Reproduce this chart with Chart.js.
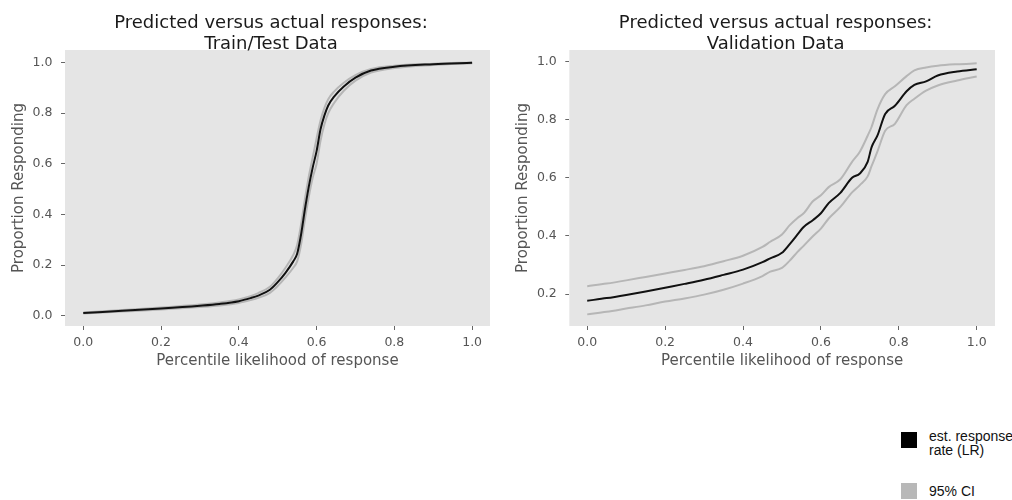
<!DOCTYPE html>
<html>
<head>
<meta charset="utf-8">
<script src="https://cdn.jsdelivr.net/npm/chart.js@4/dist/chart.umd.min.js"></script>
<style>
  body { margin: 0; background: #fff; width: 1012px; height: 500px; overflow: hidden; position: relative; }
  canvas { position: absolute; top: 0; }
  #c1 { left: 0; }
  #c2 { left: 500px; }
  .legend { position: absolute; left: 901px; font-family: "Liberation Sans", Arial, sans-serif; font-size: 14px; line-height: 14px; color: #111; white-space: nowrap; }
  .legend .sw { position: absolute; left: 0; width: 16px; height: 16px; }
  .legend .tx { position: absolute; left: 28px; }
</style>
</head>
<body>
<canvas id="c1" width="500" height="380"></canvas>
<canvas id="c2" width="512" height="380"></canvas>

<div class="legend" style="top:432px">
  <div class="sw" style="background:#000"></div>
  <div class="tx" style="top:-3px">est. response<br>rate (LR)</div>
</div>
<div class="legend" style="top:483px">
  <div class="sw" style="background:#b8b8b8"></div>
  <div class="tx" style="top:1px">95% CI</div>
</div>

<script>
// train/test data
const leftX     = [0, 0.1, 0.2, 0.3, 0.35, 0.4, 0.43, 0.45, 0.48, 0.5, 0.52, 0.54, 0.55, 0.56, 0.57, 0.58, 0.59, 0.6, 0.61, 0.62, 0.63, 0.645, 0.67, 0.7, 0.74, 0.8, 0.9, 1.0];
const leftEst   = [0.011, 0.02, 0.029, 0.04, 0.047, 0.058, 0.07, 0.08, 0.103, 0.133, 0.17, 0.215, 0.245, 0.32, 0.42, 0.51, 0.585, 0.65, 0.735, 0.79, 0.83, 0.865, 0.905, 0.94, 0.968, 0.983, 0.993, 0.999];
const leftUpper = [0.013, 0.023, 0.033, 0.045, 0.053, 0.065, 0.078, 0.09, 0.115, 0.148, 0.19, 0.24, 0.28, 0.36, 0.46, 0.55, 0.625, 0.7, 0.77, 0.82, 0.855, 0.885, 0.92, 0.95, 0.974, 0.987, 0.995, 1.0];
const leftLower = [0.009, 0.017, 0.025, 0.035, 0.041, 0.051, 0.062, 0.071, 0.091, 0.118, 0.152, 0.19, 0.215, 0.28, 0.38, 0.47, 0.545, 0.6, 0.69, 0.755, 0.8, 0.84, 0.888, 0.928, 0.96, 0.978, 0.99, 0.997];

// validation data
const rightX     = [0, 0.05, 0.1, 0.15, 0.2, 0.25, 0.3, 0.35, 0.4, 0.45, 0.47, 0.5, 0.52, 0.54, 0.555, 0.58, 0.6, 0.62, 0.65, 0.68, 0.7, 0.72, 0.73, 0.745, 0.765, 0.79, 0.82, 0.84, 0.87, 0.9, 0.95, 1.0];
const rightEst   = [0.177, 0.186, 0.197, 0.209, 0.222, 0.235, 0.249, 0.266, 0.284, 0.31, 0.323, 0.342, 0.372, 0.405, 0.43, 0.455, 0.478, 0.513, 0.548, 0.6, 0.615, 0.655, 0.705, 0.745, 0.82, 0.848, 0.898, 0.92, 0.932, 0.952, 0.966, 0.974];
const rightUpper = [0.227, 0.236, 0.247, 0.259, 0.271, 0.283, 0.296, 0.313, 0.332, 0.362, 0.38, 0.405, 0.437, 0.462, 0.477, 0.52, 0.54, 0.568, 0.595, 0.655, 0.69, 0.745, 0.775, 0.835, 0.888, 0.915, 0.95, 0.97, 0.98, 0.986, 0.991, 0.994];
const rightLower = [0.13, 0.139, 0.15, 0.161, 0.174, 0.185, 0.198, 0.215, 0.236, 0.262, 0.277, 0.29, 0.315, 0.345, 0.365, 0.4, 0.425, 0.46, 0.5, 0.55, 0.575, 0.605, 0.64, 0.69, 0.762, 0.786, 0.85, 0.872, 0.9, 0.918, 0.935, 0.949];

const xTicks = [0, 0.2, 0.4, 0.6, 0.8, 1.0];
const leftYTicks = [0, 0.2, 0.4, 0.6, 0.8, 1.0];
const rightYTicks = [0.2, 0.4, 0.6, 0.8, 1.0];

const titleLine1 = 'Predicted versus actual responses:';
const xLabel = 'Percentile likelihood of response';
const yLabel = 'Proportion Responding';

const pts = (xs, ys) => xs.map((x, i) => ({ x: x, y: ys[i] }));

const bgPlugin = {
  id: 'plotBg',
  beforeDraw(chart) {
    const a = chart.chartArea, ctx = chart.ctx;
    ctx.save();
    ctx.fillStyle = '#e5e5e5';
    ctx.fillRect(a.left, a.top, a.right - a.left, a.bottom - a.top);
    ctx.restore();
  }
};

const titlePlugin = {
  id: 'twoLineTitle',
  afterDraw(chart, args, opts) {
    const a = chart.chartArea, ctx = chart.ctx;
    ctx.save();
    ctx.font = '18px "DejaVu Sans"';
    ctx.fillStyle = '#1a1a1a';
    ctx.textAlign = 'center';
    ctx.textBaseline = 'alphabetic';
    const cx = (a.left + a.right) / 2 - 6.5;
    ctx.fillText(opts.lines[0], cx, a.top - 22);
    ctx.fillText(opts.lines[1], cx, a.top - 1);
    ctx.restore();
  }
};

function makeChart(id, xs, est, up, lo, yTicks, yMin, yMax, xMin, xMax, yAxisW, yTitlePad, padRight, subtitle) {
  const grid = { drawOnChartArea: false, drawTicks: true, tickLength: 4, color: '#666', lineWidth: 1 };
  const tickFont = { family: 'DejaVu Sans', size: 12.5 };
  const labelFont = { family: 'DejaVu Sans', size: 15 };
  return new Chart(document.getElementById(id), {
    type: 'line',
    data: {
      datasets: [
        { label: 'est. response rate (LR)', data: pts(xs, est), borderColor: '#111', borderWidth: 2, order: 0 },
        { label: '95% CI upper', data: pts(xs, up), borderColor: '#b6b6b6', borderWidth: 2, order: 1 },
        { label: '95% CI lower', data: pts(xs, lo), borderColor: '#b6b6b6', borderWidth: 2, order: 1 }
      ]
    },
    options: {
      responsive: false,
      animation: false,
      devicePixelRatio: 1,
      layout: { padding: { top: 50, right: padRight, bottom: 0, left: 0 } },
      elements: { point: { radius: 0 }, line: { cubicInterpolationMode: 'monotone', fill: false } },
      plugins: {
        legend: { display: false },
        tooltip: { enabled: false },
        twoLineTitle: { lines: [titleLine1, subtitle] }
      },
      scales: {
        x: {
          type: 'linear', min: xMin, max: xMax,
          grid: grid, border: { display: false },
          afterBuildTicks: s => { s.ticks = xTicks.map(v => ({ value: v })); },
          afterFit: s => { s.height = 54; },
          ticks: { color: '#555', font: tickFont, padding: 5, maxRotation: 0, callback: v => v.toFixed(1) },
          title: { display: true, text: xLabel, color: '#555', font: labelFont, padding: { top: 0, bottom: 10 } }
        },
        y: {
          type: 'linear', min: yMin, max: yMax,
          grid: grid, border: { display: false },
          afterBuildTicks: s => { s.ticks = yTicks.map(v => ({ value: v })); },
          afterFit: s => { s.width = yAxisW; },
          ticks: { color: '#555', font: tickFont, padding: 8.5, callback: v => v.toFixed(1) },
          title: { display: true, text: yLabel, color: '#555', font: labelFont, padding: { top: yTitlePad, bottom: 0 } }
        }
      }
    },
    plugins: [bgPlugin, titlePlugin]
  });
}

makeChart('c1', leftX, leftEst, leftUpper, leftLower, leftYTicks, -0.04, 1.049, -0.047, 1.046, 65, 10.5, 10, 'Train/Test Data');
makeChart('c2', rightX, rightEst, rightUpper, rightLower, rightYTicks, 0.09, 1.04, -0.046, 1.047, 69.3, 14.5, 17, 'Validation Data');
</script>
</body>
</html>
